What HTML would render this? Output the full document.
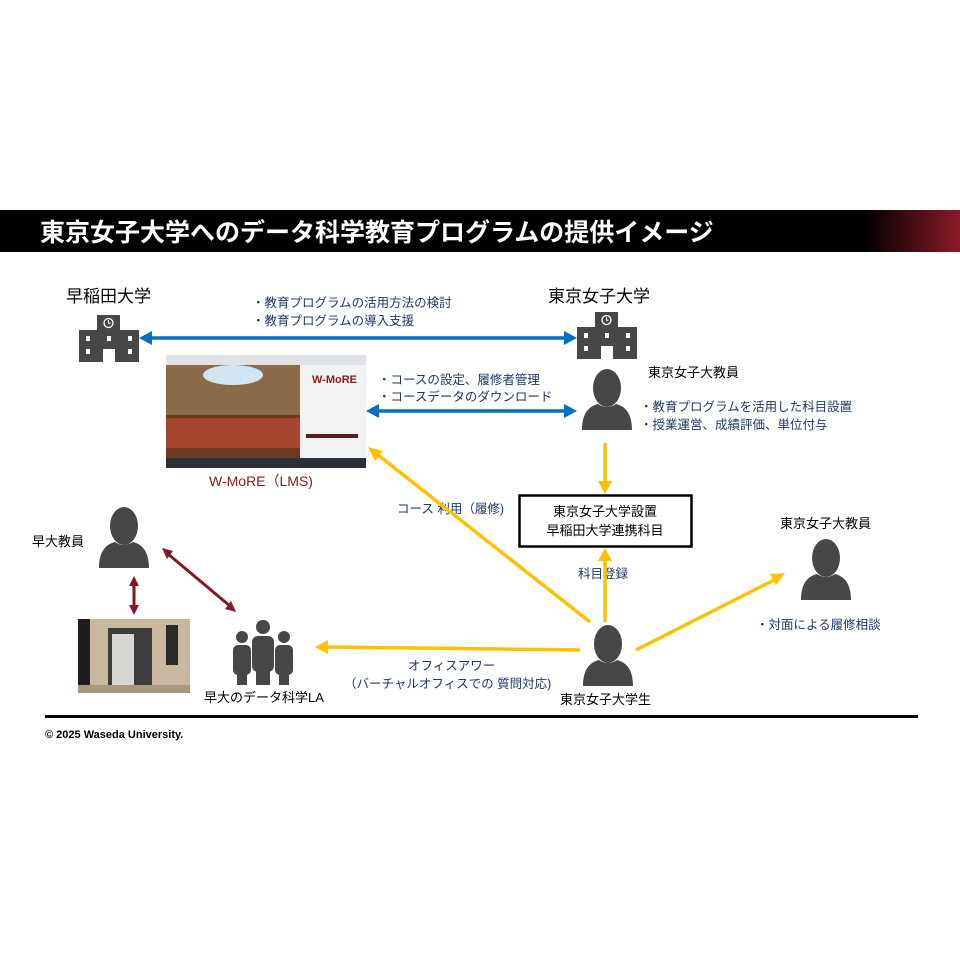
<!DOCTYPE html>
<html><head><meta charset="utf-8"><style>
html,body{margin:0;padding:0;background:#fff;}
svg{display:block;font-family:"Liberation Sans","Noto Sans CJK JP",sans-serif;}
</style></head><body>
<svg width="960" height="960" viewBox="0 0 960 960" xmlns="http://www.w3.org/2000/svg">
<defs>
<linearGradient id="tg" x1="0" x2="1" y1="0" y2="0">
<stop offset="0" stop-color="#000"/><stop offset="0.9" stop-color="#000"/><stop offset="1" stop-color="#8a1a28"/>
</linearGradient>
<g id="bld">
<rect x="18" y="0" width="23" height="16" fill="#474747"/>
<circle cx="29.5" cy="8" r="4.5" fill="none" stroke="#fff" stroke-width="1.3"/>
<path d="M29.5 5v3.2h2" stroke="#fff" stroke-width="1" fill="none"/>
<rect x="0" y="15" width="60" height="32" fill="#474747"/>
<rect x="7" y="21" width="4" height="5" fill="#fff"/><rect x="28" y="21" width="4" height="5" fill="#fff"/><rect x="49" y="21" width="4" height="5" fill="#fff"/>
<rect x="7" y="34" width="4" height="5" fill="#fff"/><rect x="49" y="34" width="4" height="5" fill="#fff"/>
<rect x="24" y="34" width="12" height="13" fill="#fff"/>
</g>
<g id="per">
<ellipse cx="25" cy="18" rx="14" ry="19" fill="#474747"/>
<path d="M0 60 C0 42 8 36 16 34 Q25 40 34 34 C42 36 50 42 50 60Z" fill="#474747"/>
</g>
</defs>
<rect x="0" y="210" width="960" height="42" fill="url(#tg)"/>
<text x="40" y="241" font-size="25" font-weight="bold" fill="#fff">東京女子大学へのデータ科学教育プログラムの提供イメージ</text>

<text x="66" y="302" font-size="17" fill="#000">早稲田大学</text>
<text x="548" y="302" font-size="17" fill="#000">東京女子大学</text>
<g font-size="12.5" fill="#1f3864">
<text x="252" y="307">・教育プログラムの活用方法の検討</text>
<text x="252" y="325">・教育プログラムの導入支援</text>
<text x="378" y="384">・コースの設定、履修者管理</text>
<text x="378" y="401">・コースデータのダウンロード</text>
<text x="640" y="411">・教育プログラムを活用した科目設置</text>
<text x="640" y="429">・授業運営、成績評価、単位付与</text>
<text x="397" y="513">コース 利用（履修)</text>
<text x="578" y="578">科目登録</text>
<text x="756" y="629">・対面による履修相談</text>
<text x="408" y="670">オフィスアワー</text>
<text x="344" y="688">（バーチャルオフィスでの 質問対応)</text>
</g>
<g font-size="13" fill="#000">
<text x="648" y="377">東京女子大教員</text>
<text x="780" y="528">東京女子大教員</text>
<text x="32" y="546">早大教員</text>
<text x="204" y="702">早大のデータ科学LA</text>
<text x="560" y="704">東京女子大学生</text>
</g>

<use href="#bld" x="79" y="315"/>
<use href="#bld" x="577" y="312"/>

<g stroke="#0070c0" stroke-width="3.5" fill="#0070c0">
<line x1="150" y1="338" x2="566" y2="338"/>
<line x1="376" y1="411" x2="566" y2="411"/>
</g>
<g fill="#0070c0">
<path d="M139 338l13-7v14z"/><path d="M577 338l-13-7v14z"/>
<path d="M366 411l13-7v14z"/><path d="M577 411l-13-7v14z"/>
</g>

<rect x="166" y="355" width="200" height="113" fill="#eef0f2"/>
<rect x="166" y="355" width="200" height="10" fill="#dfe3e8"/>
<rect x="166" y="365" width="134" height="93" fill="#6b3a22"/>
<rect x="166" y="365" width="134" height="50" fill="#8a6a48"/>
<ellipse cx="233" cy="375" rx="30" ry="10" fill="#cfe6f2"/>
<rect x="166" y="418" width="134" height="30" fill="#a5452e"/>
<rect x="300" y="365" width="66" height="93" fill="#f1f2f3"/>
<text x="312" y="383" font-size="11" font-weight="bold" fill="#8b1a1a">W-MoRE</text>
<rect x="306" y="434" width="52" height="4" fill="#5a1c1c"/>
<rect x="166" y="458" width="200" height="10" fill="#2a2f3a"/>
<text x="209" y="486" font-size="14" fill="#8b1a1a">W-MoRE（LMS)</text>

<use href="#per" x="582" y="370"/>
<use href="#per" x="99" y="508"/>
<use href="#per" x="801" y="540"/>
<use href="#per" x="583" y="626"/>

<rect x="519.5" y="495.5" width="172" height="51" fill="#fff" stroke="#000" stroke-width="2.5"/>
<text x="605" y="516" font-size="13" text-anchor="middle">東京女子大学設置</text>
<text x="605" y="535" font-size="13" text-anchor="middle">早稲田大学連携科目</text>

<g stroke="#ffc000" stroke-width="3.5" fill="none">
<line x1="605" y1="443" x2="605" y2="482"/>
<line x1="605" y1="622" x2="605" y2="560"/>
<line x1="590" y1="622" x2="378" y2="455"/>
<line x1="636" y1="650" x2="774" y2="580"/>
<line x1="580" y1="650" x2="328" y2="647"/>
</g>
<g fill="#ffc000">
<path d="M605 494l-7-13h14z"/>
<path d="M605 548l-7 13h14z"/>
<path d="M368 447l15 4-8 10z"/>
<path d="M785 573l-15 1 6 11z"/>
<path d="M315 647l13-7v14z"/>
</g>

<g stroke="#7f1a27" stroke-width="3" fill="#7f1a27">
<line x1="134" y1="584" x2="134" y2="607"/>
<line x1="168" y1="554" x2="230" y2="606"/>
</g>
<g fill="#7f1a27">
<path d="M134 576l-5 10h10z"/><path d="M134 615l-5-10h10z"/>
<path d="M162 548l11 3-6 8z"/><path d="M236 612l-11-3 6-8z"/>
</g>

<rect x="78" y="619" width="112" height="74" fill="#c8b8a0"/>
<rect x="78" y="619" width="12" height="74" fill="#1e1e1e"/>
<rect x="108" y="628" width="44" height="60" fill="#3c3c3c"/>
<rect x="112" y="634" width="22" height="52" fill="#d6d6d2"/>
<rect x="166" y="625" width="12" height="40" fill="#2a2a2a"/>
<rect x="78" y="685" width="112" height="8" fill="#a89880"/>

<g fill="#474747">
<circle cx="242" cy="637" r="6"/><rect x="233" y="645" width="18" height="30" rx="5"/><rect x="237" y="670" width="10" height="15"/>
<circle cx="284" cy="637" r="6"/><rect x="275" y="645" width="18" height="30" rx="5"/><rect x="279" y="670" width="10" height="15"/>
<circle cx="263" cy="627" r="7"/><rect x="252" y="636" width="22" height="36" rx="6"/><rect x="256" y="665" width="14" height="20"/>
</g>

<rect x="45" y="715" width="873" height="3" fill="#000"/>
<text x="45" y="738" font-size="11" font-weight="bold" fill="#000">© 2025 Waseda University.</text>
</svg>
</body></html>
